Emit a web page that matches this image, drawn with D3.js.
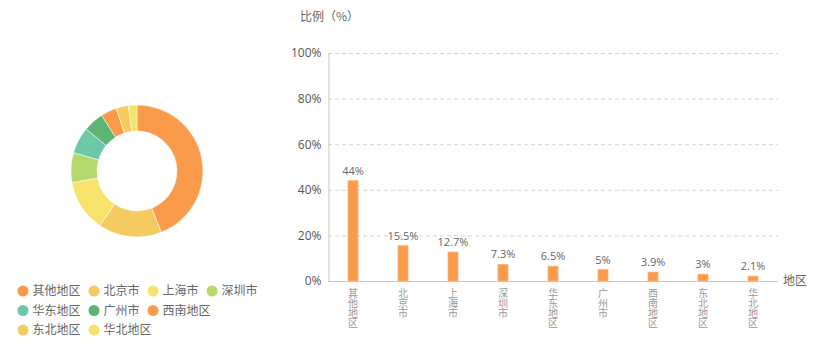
<!DOCTYPE html>
<html>
<head>
<meta charset="utf-8">
<script src="https://cdn.jsdelivr.net/npm/d3@7"></script>
<style>
	body { margin: 0; background: #fff; }
	svg { display: block; font-family: "Noto Sans CJK SC", "Noto Sans", sans-serif; }
</style>
</head>
<body>
<svg width="828" height="354"></svg>
<script>
// data
var regions = ['其他地区', '北京市', '上海市', '深圳市', '华东地区', '广州市', '西南地区', '东北地区', '华北地区'];
var shares = [44, 15.5, 12.7, 7.3, 6.5, 5, 3.9, 3, 2.1];
var colors = ['#fa9a4b', '#f5cb61', '#f7e36b', '#b4d86c', '#6dc8a8', '#5eb472', '#fa9a4b', '#f5cb61', '#f7e36b'];
var yTicks = [0, 20, 40, 60, 80, 100];

var svg = d3.select('svg');

var rows = regions.map(function(r, i){
	return { name: r, value: shares[i], color: colors[i] };
});

// donut
var pie = d3.pie().sort(null).value(function(d){ return d.value; });
var arc = d3.arc().innerRadius(40).outerRadius(66);

svg.append('g')
	.attr('transform', 'translate(137,171)')
	.selectAll('path')
	.data(pie(rows))
	.enter()
	.append('path')
	.attr('d', arc)
	.attr('fill', function(d){ return d.data.color; })
	.attr('stroke', '#fff')
	.attr('stroke-width', 0.5);

// legend, flows into rows
var legend = svg.append('g').attr('font-size', 12).attr('fill', '#666');
var lx = 17.5, ly = 291, maxX = 265;
rows.forEach(function(d){
	var g = legend.append('g');
	var t = g.append('text')
		.attr('x', 15)
		.attr('dy', '0.35em')
		.text(d.name);
	var w = 15 + t.node().getComputedTextLength();
	if(lx + w > maxX){
		lx = 17.5;
		ly += 19.5;
	}
	g.attr('transform', 'translate(' + lx + ',' + ly + ')');
	g.append('circle')
		.attr('cx', 5.5)
		.attr('cy', 0)
		.attr('r', 5.5)
		.attr('fill', d.color);
	lx += w + 8;
});

// bar chart
var plotL = 328, plotR = 778, plotT = 53, plotB = 281;

var x = d3.scaleBand()
	.domain(regions)
	.range([plotL, plotR]);

var y = d3.scaleLinear()
	.domain([0, 100])
	.range([plotB, plotT]);

// grid
svg.append('g')
	.selectAll('line')
	.data(yTicks.slice(1))
	.enter()
	.append('line')
	.attr('x1', plotL)
	.attr('x2', plotR)
	.attr('y1', function(d){ return y(d) + 0.5; })
	.attr('y2', function(d){ return y(d) + 0.5; })
	.attr('stroke', '#d4d4d4')
	.attr('stroke-dasharray', '4,3');

// y axis
var yAxis = svg.append('g')
	.attr('transform', 'translate(' + (plotL + 0.5) + ',0)')
	.call(d3.axisLeft(y).tickValues(yTicks).tickSize(0).tickPadding(7)
		.tickFormat(function(d){ return d + '%'; }));
yAxis.select('.domain').attr('stroke', '#c8c8c8');
yAxis.selectAll('text')
	.attr('font-size', 12)
	.attr('fill', '#555')
	.attr('font-family', '"Open Sans", "Noto Sans", sans-serif');

// x axis line
svg.append('line')
	.attr('x1', plotL)
	.attr('x2', plotR)
	.attr('y1', plotB + 0.5)
	.attr('y2', plotB + 0.5)
	.attr('stroke', '#c8c8c8');

// bars
var barW = 10;
svg.append('g')
	.selectAll('rect')
	.data(rows)
	.enter()
	.append('rect')
	.attr('x', function(d){ return x(d.name) + x.bandwidth()/2 - barW/2; })
	.attr('y', function(d){ return y(d.value); })
	.attr('width', barW)
	.attr('height', function(d){ return plotB - y(d.value); })
	.attr('fill', '#fa9a4b')
	.attr('stroke', '#fbb57a')
	.attr('stroke-width', 0.8);

// value labels
svg.append('g')
	.selectAll('text')
	.data(rows)
	.enter()
	.append('text')
	.attr('x', function(d){ return x(d.name) + x.bandwidth()/2; })
	.attr('y', function(d){ return y(d.value) - 6; })
	.attr('text-anchor', 'middle')
	.attr('font-size', 11)
	.attr('fill', '#666')
	.attr('font-family', '"Open Sans", "Noto Sans", sans-serif')
	.text(function(d){ return d.value + '%'; });

// vertical category labels (upright CJK in vertical writing mode)
svg.append('g')
	.selectAll('text')
	.data(rows)
	.enter()
	.append('text')
	.attr('x', function(d){ return x(d.name) + x.bandwidth()/2; })
	.attr('y', plotB + 7)
	.style('writing-mode', 'vertical-rl')
	.style('text-orientation', 'upright')
	.attr('font-size', 10)
	.attr('fill', '#999')
	.text(function(d){ return d.name; });

// axis names
svg.append('text')
	.attr('x', 300)
	.attr('y', 21)
	.attr('font-size', 12)
	.attr('fill', '#666')
	.text('比例（%）');

svg.append('text')
	.attr('x', plotR + 5)
	.attr('y', plotB)
	.attr('dy', '0.35em')
	.attr('font-size', 12)
	.attr('fill', '#666')
	.text('地区');
</script>
</body>
</html>
